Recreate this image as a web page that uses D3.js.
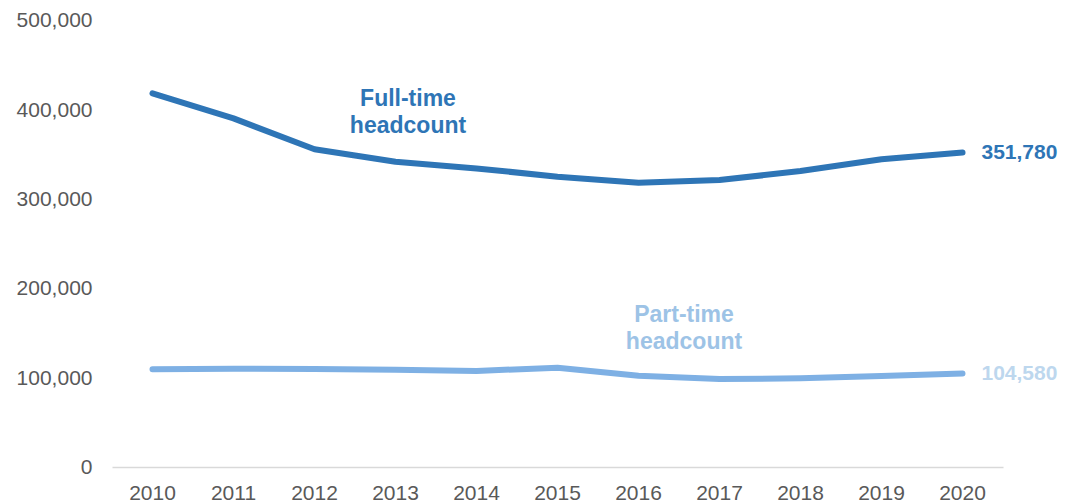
<!DOCTYPE html>
<html>
<head>
<meta charset="utf-8">
<script src="https://cdn.jsdelivr.net/npm/d3@7"></script>
<style>
  html, body { margin: 0; padding: 0; background: #ffffff; }
  svg { display: block; font-family: "Liberation Sans", Arial, Helvetica, sans-serif; }
</style>
</head>
<body>
<svg id="chart" width="1074" height="503"></svg>
<script>
// Headcount by year
const years = ["2010", "2011", "2012", "2013", "2014", "2015", "2016", "2017", "2018", "2019", "2020"];
const fullTime = [418000, 390000, 355400, 341500, 334000, 324700, 318000, 321000, 331000, 344200, 351780];
const partTime = [109300, 110000, 109600, 108900, 107400, 111100, 102100, 98400, 99200, 101800, 104580];
const yTicks = [0, 100000, 200000, 300000, 400000, 500000];

const svg = d3.select("#chart");

const x = d3.scaleBand().domain(years).range([112, 1003]).padding(0);
const cx = d => x(d) + x.bandwidth() / 2;
const y = d3.scaleLinear().domain([0, 500000]).range([467, 20]);

const fmt = d3.format(",");

// Y axis labels (no gridlines)
const yAxis = svg.append("g")
  .attr("transform", "translate(112,0)")
  .call(d3.axisLeft(y).tickValues(yTicks).tickSize(0).tickPadding(19.5).tickFormat(fmt));
yAxis.select(".domain").remove();
yAxis.selectAll("text")
  .attr("fill", "#595959")
  .style("font-size", "21px")
  .style("font-family", "\"Liberation Sans\", Arial, sans-serif");

// X axis with baseline
const xAxis = svg.append("g")
  .attr("transform", "translate(0,467)")
  .call(d3.axisBottom(x).tickSize(0).tickSizeOuter(0));
xAxis.select(".domain").attr("stroke", "#d9d9d9").attr("stroke-width", 1.5);
xAxis.selectAll("text")
  .attr("y", 33)
  .attr("dy", 0)
  .attr("fill", "#595959")
  .style("font-size", "21px")
  .style("font-family", "\"Liberation Sans\", Arial, sans-serif");

const line = d3.line().x((d, i) => cx(years[i])).y(d => y(d));

const series = [
  { name: "full", values: fullTime, stroke: "#2e75b6", labelColor: "#2e75b6", valueColor: "#2e75b6",
    label: ["Full-time", "headcount"], lx: 408, ly: 106 },
  { name: "part", values: partTime, stroke: "#7eb0e4", labelColor: "#9dc3e6", valueColor: "#bdd7ee",
    label: ["Part-time", "headcount"], lx: 684, ly: 322 }
];

series.forEach(s => {
  svg.append("path")
    .datum(s.values)
    .attr("fill", "none")
    .attr("stroke", s.stroke)
    .attr("stroke-width", 6)
    .attr("stroke-linecap", "round")
    .attr("stroke-linejoin", "round")
    .attr("d", line);

  // end value label
  const last = s.values[s.values.length - 1];
  svg.append("text")
    .attr("x", cx(years[years.length - 1]) + 19)
    .attr("y", y(last) + 6)
    .attr("fill", s.valueColor)
    .attr("font-weight", "bold")
    .style("font-size", "21px")
    .text(fmt(last));

  // series name label
  const t = svg.append("text")
    .attr("text-anchor", "middle")
    .attr("fill", s.labelColor)
    .attr("font-weight", "bold")
    .style("font-size", "23px");
  s.label.forEach((ln, i) => {
    t.append("tspan").attr("x", s.lx).attr("y", s.ly + i * 27).text(ln);
  });
});
</script>
</body>
</html>
